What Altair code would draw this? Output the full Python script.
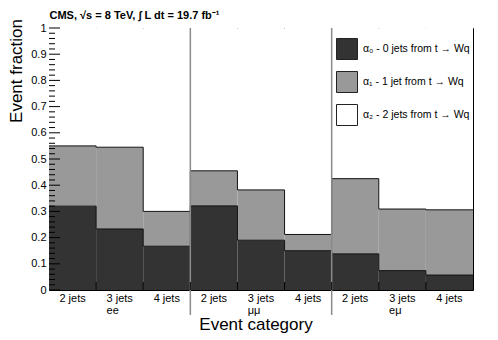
import altair as alt
import pandas as pd

# ---- data ----
channels = ["ee", "μμ", "eμ"]
jet_bins = ["2 jets", "3 jets", "4 jets"]
alpha0 = [0.320, 0.233, 0.167, 0.321, 0.190, 0.150, 0.138, 0.074, 0.057]
alpha1 = [0.230, 0.312, 0.133, 0.134, 0.192, 0.062, 0.287, 0.235, 0.249]
comp_labels = ["α₀ - 0 jets from t → Wq", "α₁ - 1 jet from t → Wq", "α₂ - 2 jets from t → Wq"]
comp_colors = ["#333333", "#999999", "#ffffff"]
y_major = [round(0.1 * i, 1) for i in range(11)]
y_minor = [round(0.02 * i, 2) for i in range(51) if i % 5 != 0]

W, H = 424, 262
FONT = "Liberation Sans"
nbins = len(alpha0)

# ---- tables ----
rect_rows, bin_rows, step_rows = [], [], []
for i in range(nbins):
    a0, a1 = alpha0[i], alpha1[i]
    bounds = [(0.0, a0), (a0, a0 + a1), (a0 + a1, 1.0)]
    for lab, (lo, hi) in zip(comp_labels, bounds):
        rect_rows.append(dict(x0=i, x1=i + 1, y0=lo, y1=hi, comp=lab))
    bin_rows.append(dict(xc=i + 0.5, jet=jet_bins[i % 3]))
    step_rows.append(dict(x=i, y=a0, s="a0"))
    step_rows.append(dict(x=i, y=a0 + a1, s="a01"))
step_rows.append(dict(x=nbins, y=alpha0[-1], s="a0"))
step_rows.append(dict(x=nbins, y=alpha0[-1] + alpha1[-1], s="a01"))

rects = pd.DataFrame(rect_rows)
bins = pd.DataFrame(bin_rows)
steps = pd.DataFrame(step_rows)
chan = pd.DataFrame(dict(xc=[3 * k + 1.5 for k in range(3)], ch=channels))
seps = pd.DataFrame(dict(x=[3, 6]))
edges = pd.DataFrame(dict(x=list(range(1, nbins))))
majors = pd.DataFrame(dict(y=y_major))
minors = pd.DataFrame(dict(y=y_minor))

xs = alt.Scale(domain=[0, nbins], nice=False, zero=False)
ys = alt.Scale(domain=[0, 1], nice=False, zero=False)
yaxis = alt.Axis(values=y_major, format="~g", ticks=False, domain=False, grid=False,
                 labelFont=FONT, labelFontSize=11, labelColor="#000", labelPadding=3, title=None)

fills = alt.Chart(rects).mark_rect(strokeWidth=0).encode(
    x=alt.X("x0:Q", scale=xs, axis=None),
    x2="x1:Q",
    y=alt.Y("y0:Q", scale=ys, axis=yaxis),
    y2="y1:Q",
    fill=alt.Fill("comp:N",
                  scale=alt.Scale(domain=comp_labels, range=comp_colors),
                  sort=comp_labels,
                  legend=alt.Legend(orient="none", legendX=287, legendY=10, title=None,
                                    symbolType="square", symbolSize=441,
                                    symbolStrokeColor="#222", symbolStrokeWidth=1,
                                    symbolOpacity=1,
                                    labelFont=FONT, labelFontSize=10.5, labelColor="#000",
                                    labelOffset=5, rowPadding=7)),
)

outline = alt.Chart(steps).mark_line(interpolate="step-after", color="#111", strokeWidth=1).encode(
    x=alt.X("x:Q", scale=xs, axis=None),
    y=alt.Y("y:Q", scale=ys, axis=yaxis),
    detail="s:N",
)

major_ticks = alt.Chart(majors).mark_rule(color="#000", strokeWidth=1).encode(
    x=alt.value(0), x2=alt.value(11), y=alt.Y("y:Q", scale=ys, axis=yaxis))
minor_ticks = alt.Chart(minors).mark_rule(color="#000", strokeWidth=1).encode(
    x=alt.value(0), x2=alt.value(6), y=alt.Y("y:Q", scale=ys, axis=yaxis))
bottom_ticks = alt.Chart(edges).mark_rule(color="#000", strokeWidth=1).encode(
    x=alt.X("x:Q", scale=xs, axis=None), y=alt.value(H), y2=alt.value(H - 8))

separators = alt.Chart(seps).mark_rule(color="#8a8a8a", strokeWidth=1.5).encode(
    x=alt.X("x:Q", scale=xs, axis=None), y=alt.value(0), y2=alt.value(H + 25))

jet_text = alt.Chart(bins).mark_text(font=FONT, fontSize=11, color="#000", baseline="middle").encode(
    x=alt.X("xc:Q", scale=xs, axis=None), y=alt.value(H + 9), text="jet:N")
chan_text = alt.Chart(chan).mark_text(font=FONT, fontSize=11, color="#000", baseline="middle", dx=-7).encode(
    x=alt.X("xc:Q", scale=xs, axis=None), y=alt.value(H + 21), text="ch:N")

xtitle = alt.Chart(pd.DataFrame(dict(t=["Event category"]))).mark_text(
    font=FONT, fontSize=17, color="#000", baseline="alphabetic").encode(
    x=alt.value(207), y=alt.value(H + 40), text="t:N")
ytitle = alt.Chart(pd.DataFrame(dict(t=["Event fraction"]))).mark_text(
    font=FONT, fontSize=17, color="#000", angle=270, align="right", baseline="middle").encode(
    x=alt.value(-32), y=alt.value(-9), text="t:N")
cms = alt.Chart(pd.DataFrame(dict(t=["CMS, √s = 8 TeV, ∫ L dt = 19.7 fb⁻¹"]))).mark_text(
    font=FONT, fontSize=11, fontWeight="bold", color="#000", align="left", baseline="alphabetic").encode(
    x=alt.value(0.5), y=alt.value(-9), text="t:N")

chart = alt.layer(
    fills, outline, separators, major_ticks, minor_ticks, bottom_ticks,
    jet_text, chan_text, xtitle, ytitle, cms,
).properties(
    width=W, height=H,
    autosize=alt.AutoSizeParams(type="none"),
    padding={"left": 41, "top": 20, "right": 17, "bottom": 50},
).configure_view(stroke="#000", strokeWidth=1)

chart.save("out.html", embed_options={"renderer": "svg", "actions": False})
